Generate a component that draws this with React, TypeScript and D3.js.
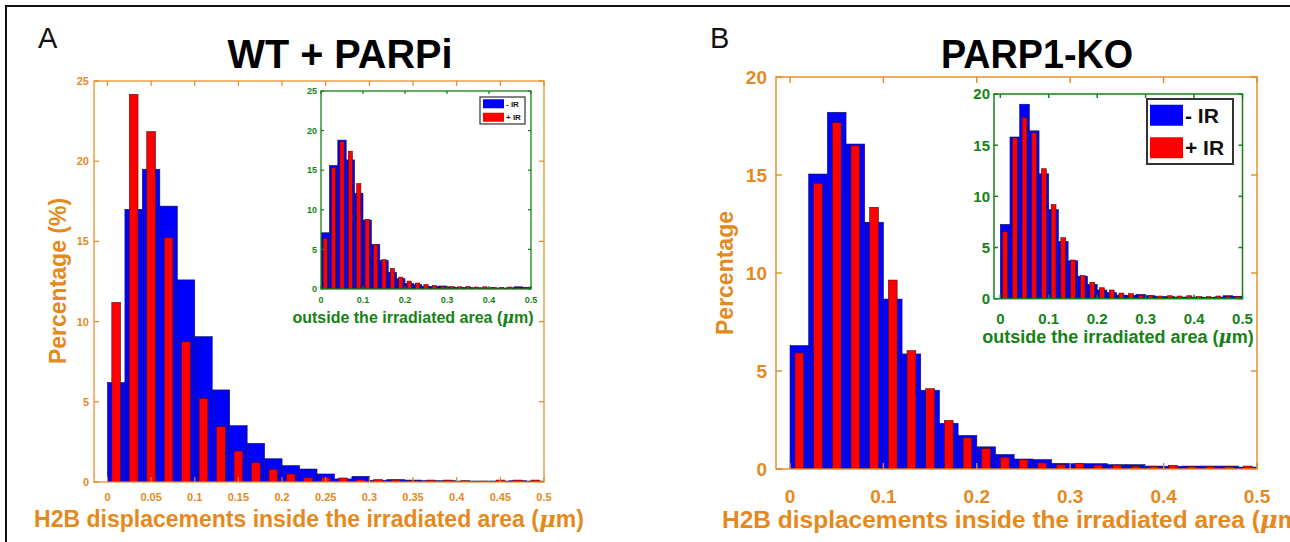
import React from "react";
import * as d3 from "d3";

// ---------- DATA ----------
const BIN_LEFT = [0, 0.02, 0.04, 0.06, 0.08, 0.1, 0.12, 0.14, 0.16, 0.18, 0.2, 0.22, 0.24, 0.26, 0.28, 0.3, 0.32, 0.34, 0.36, 0.38, 0.4, 0.42, 0.44, 0.46, 0.48];
const BIN_WIDTH = 0.02;

const SERIES = ["- IR", "+ IR"];

// Panel A (WT + PARPi), inside irradiated area
const A_MAIN_NOIR = [6.2, 17.0, 19.5, 17.2, 12.6, 9.06, 5.74, 3.51, 2.41, 1.45, 1.02, 0.81, 0.5, 0.19, 0.35, 0.1, 0.15, 0.12, 0.08, 0.08, 0.06, 0.06, 0.06, 0.08, 0.06];
const A_MAIN_IR = [11.2, 24.17, 21.84, 15.23, 8.75, 5.22, 3.45, 1.93, 1.2, 0.79, 0.5, 0.27, 0.27, 0.25, 0.15, 0.15, 0.12, 0.08, 0.12, 0.12, 0.08, 0.05, 0.12, 0.12, 0.12];
// Panel A inset, outside irradiated area
const A_INSET_NOIR = [7.1, 15.6, 18.8, 16.3, 12.1, 8.7, 5.6, 3.6, 2.1, 1.3, 0.7, 0.55, 0.35, 0.3, 0.38, 0.25, 0.2, 0.2, 0.15, 0.15, 0.15, 0.12, 0.15, 0.28, 0.22];
const A_INSET_IR = [6.4, 15.3, 18.6, 17.4, 13.3, 8.8, 5.6, 3.7, 2.6, 1.5, 1.0, 0.75, 0.55, 0.45, 0.3, 0.3, 0.28, 0.3, 0.25, 0.28, 0.2, 0.2, 0.25, 0.2, 0.22];

// Panel B (PARP1-KO)
const B_MAIN_NOIR = [6.3, 15.05, 18.2, 16.58, 12.59, 8.67, 5.87, 4.02, 2.33, 1.71, 1.13, 0.74, 0.51, 0.48, 0.29, 0.27, 0.27, 0.22, 0.22, 0.15, 0.14, 0.15, 0.15, 0.15, 0.1];
const B_MAIN_IR = [5.92, 14.58, 17.67, 16.5, 13.35, 9.64, 6.04, 4.1, 2.48, 1.59, 1.04, 0.6, 0.48, 0.31, 0.22, 0.27, 0.2, 0.2, 0.14, 0.14, 0.19, 0.12, 0.14, 0.12, 0.15];
const B_INSET_NOIR = [7.26, 15.8, 19.0, 16.4, 12.2, 8.7, 5.6, 3.7, 2.2, 1.4, 0.85, 0.6, 0.36, 0.33, 0.42, 0.29, 0.2, 0.2, 0.16, 0.16, 0.16, 0.13, 0.16, 0.29, 0.23];
const B_INSET_IR = [6.55, 15.7, 17.7, 16.2, 12.7, 9.2, 5.96, 3.78, 2.25, 1.6, 1.07, 0.85, 0.55, 0.49, 0.33, 0.29, 0.26, 0.29, 0.26, 0.29, 0.2, 0.2, 0.26, 0.23, 0.23];

// Ticks
const X_TICKS_FINE = [0, 0.05, 0.1, 0.15, 0.2, 0.25, 0.3, 0.35, 0.4, 0.45, 0.5];
const X_TICKS_COARSE = [0, 0.1, 0.2, 0.3, 0.4, 0.5];
const Y_TICKS_25 = [0, 5, 10, 15, 20, 25];
const Y_TICKS_20 = [0, 5, 10, 15, 20];

// Text
const TITLE_A = "WT + PARPi";
const TITLE_B = "PARP1-KO";
const YLABEL_A = "Percentage (%)";
const YLABEL_B = "Percentage";
const XLABEL_MAIN = "H2B displacements inside the irradiated area (";
const XLABEL_INSET = "outside the irradiated area (";

// ---------- STYLE ----------
const ORANGE = "#E5891D";
const GREEN = "#168216";
const BLUE = "#0000FF";
const RED = "#FF0000";
const FONT = "'Liberation Sans', Arial, Helvetica, sans-serif";

type HistProps = {
  left: number; right: number; top: number; bottom: number;
  xDomain: [number, number]; yMax: number;
  noIR: number[]; ir: number[];
  xTicks: number[]; yTicks: number[];
  color: string; tickFont: number; tickLen: number; lineW: number;
  xLabelY: number; yLabelX: number;
  redFrac: number;
  clip: string;
};

function Hist(p: HistProps) {
  const x = d3.scaleLinear().domain(p.xDomain).range([p.left, p.right]);
  const y = d3.scaleLinear().domain([0, p.yMax]).range([p.bottom, p.top]);
  const fmt = (v: number) => String(+v.toFixed(2));
  return (
    <g>
      <rect x={p.left} y={p.top} width={p.right - p.left} height={p.bottom - p.top} fill="#fff" />
      <clipPath id={p.clip}>
        <rect x={p.left} y={p.top} width={p.right - p.left} height={p.bottom - p.top} />
      </clipPath>
      <g clipPath={`url(#${p.clip})`}>
        {BIN_LEFT.map((b, i) => (
          <rect key={"b" + i} x={x(b)} y={y(p.noIR[i])} width={x(b + BIN_WIDTH) - x(b)}
            height={y(0) - y(p.noIR[i])} fill={BLUE} stroke="#10105a" strokeWidth={0.6} />
        ))}
        {BIN_LEFT.map((b, i) => {
          const w = (x(b + BIN_WIDTH) - x(b)) * p.redFrac;
          const cx = x(b + BIN_WIDTH / 2);
          return (
            <rect key={"r" + i} x={cx - w / 2} y={y(p.ir[i])} width={w}
              height={y(0) - y(p.ir[i])} fill={RED} stroke="#4a1010" strokeWidth={0.6} />
          );
        })}
      </g>
      {/* ticks */}
      {p.xTicks.map((t, i) => (
        <g key={"xt" + i}>
          <line x1={x(t)} x2={x(t)} y1={p.bottom} y2={p.bottom - p.tickLen} stroke={p.color} strokeWidth={p.lineW} />
          <line x1={x(t)} x2={x(t)} y1={p.top} y2={p.top + p.tickLen} stroke={p.color} strokeWidth={p.lineW} />
          <text x={x(t)} y={p.xLabelY} textAnchor="middle" fontSize={p.tickFont} fontWeight="bold" fill={p.color} fontFamily={FONT}>{fmt(t)}</text>
        </g>
      ))}
      {p.yTicks.map((t, i) => (
        <g key={"yt" + i}>
          <line x1={p.left} x2={p.left + p.tickLen} y1={y(t)} y2={y(t)} stroke={p.color} strokeWidth={p.lineW} />
          <line x1={p.right} x2={p.right - p.tickLen} y1={y(t)} y2={y(t)} stroke={p.color} strokeWidth={p.lineW} />
          <text x={p.yLabelX} y={y(t)} dy="0.36em" textAnchor="end" fontSize={p.tickFont} fontWeight="bold" fill={p.color} fontFamily={FONT}>{fmt(t)}</text>
        </g>
      ))}
      <rect x={p.left} y={p.top} width={p.right - p.left} height={p.bottom - p.top} fill="none" stroke={p.color} strokeWidth={p.lineW} />
    </g>
  );
}

function Legend(props: { x: number; y: number; w: number; h: number; pw: number; ph: number; font: number; border: number }) {
  const { x, y, w, h, pw, ph, font, border } = props;
  const rowH = h / 2;
  return (
    <g>
      <rect x={x} y={y} width={w} height={h} fill="#fff" stroke="#333" strokeWidth={border} />
      {SERIES.map((s, i) => {
        const cy = y + rowH * (i + 0.5);
        return (
          <g key={s}>
            <rect x={x + 3} y={cy - ph / 2} width={pw} height={ph} fill={i === 0 ? BLUE : RED} />
            <text x={x + 5 + pw} y={cy} dy="0.36em" fontSize={font} fontWeight="bold" fill="#111" fontFamily={FONT}>{s}</text>
          </g>
        );
      })}
    </g>
  );
}

export default function App() {
  return (
    <svg width={1290} height={542} style={{ position: "absolute", left: 0, top: 0, background: "#fff" }}>
      <rect x={0} y={0} width={1290} height={542} fill="#fff" />
      <line x1={5} x2={1290} y1={6} y2={6} stroke="#111" strokeWidth={2} />
      <line x1={6} x2={6} y1={5} y2={542} stroke="#111" strokeWidth={2} />

      {/* Panel A */}
      <text x={38} y={48} fontSize={29} fill="#111" fontFamily={FONT}>A</text>
      <text x={340} y={68} textAnchor="middle" fontSize={40} fontWeight="bold" fill="#000" fontFamily={FONT}
        textLength={225} lengthAdjust="spacingAndGlyphs">{TITLE_A}</text>
      <Hist left={94} right={544} top={81} bottom={482} xDomain={[-0.0154, 0.5]} yMax={25}
        noIR={A_MAIN_NOIR} ir={A_MAIN_IR} xTicks={X_TICKS_FINE} yTicks={Y_TICKS_25}
        color={ORANGE} tickFont={11} tickLen={5} lineW={1.2} xLabelY={501} yLabelX={89} redFrac={0.5} clip="cA" />
      <text transform="translate(66,281) rotate(-90)" textAnchor="middle" fontSize={23} fontWeight="bold" fill={ORANGE} fontFamily={FONT}>{YLABEL_A}</text>
      <text x={309} y={527} textAnchor="middle" fontSize={23} fontWeight="bold" fill={ORANGE} fontFamily={FONT}>
        {XLABEL_MAIN}<tspan fontStyle="italic" fontFamily="'DejaVu Serif', serif">μ</tspan>m)
      </text>

      <Hist left={321} right={531} top={91} bottom={289} xDomain={[0, 0.5]} yMax={25}
        noIR={A_INSET_NOIR} ir={A_INSET_IR} xTicks={X_TICKS_COARSE} yTicks={Y_TICKS_25}
        color={GREEN} tickFont={9} tickLen={3} lineW={1.3} xLabelY={303} yLabelX={317} redFrac={0.5} clip="cAi" />
      <text x={413} y={323} textAnchor="middle" fontSize={16} fontWeight="bold" fill={GREEN} fontFamily={FONT}>
        {XLABEL_INSET}<tspan fontStyle="italic" fontFamily="'DejaVu Serif', serif">μ</tspan>m)
      </text>
      <Legend x={480} y={97} w={45} h={27} pw={21} ph={9} font={8} border={1.2} />

      {/* Panel B */}
      <text x={710} y={48} fontSize={29} fill="#111" fontFamily={FONT}>B</text>
      <text x={1037} y={68} textAnchor="middle" fontSize={40} fontWeight="bold" fill="#000" fontFamily={FONT}
        textLength={192} lengthAdjust="spacingAndGlyphs">{TITLE_B}</text>
      <Hist left={776} right={1257} top={77} bottom={469} xDomain={[-0.015, 0.5]} yMax={20}
        noIR={B_MAIN_NOIR} ir={B_MAIN_IR} xTicks={X_TICKS_COARSE} yTicks={Y_TICKS_20}
        color={ORANGE} tickFont={19} tickLen={6} lineW={1.4} xLabelY={503} yLabelX={767} redFrac={0.47} clip="cB" />
      <text transform="translate(733,273) rotate(-90)" textAnchor="middle" fontSize={23} fontWeight="bold" fill={ORANGE} fontFamily={FONT}>{YLABEL_B}</text>
      <text x={722} y={528} textAnchor="start" fontSize={24.5} fontWeight="bold" fill={ORANGE} fontFamily={FONT}>
        {XLABEL_MAIN}<tspan fontStyle="italic" fontFamily="'DejaVu Serif', serif">μ</tspan>m)
      </text>

      <Hist left={994} right={1242.5} top={94} bottom={298.7} xDomain={[-0.013, 0.5]} yMax={20}
        noIR={B_INSET_NOIR} ir={B_INSET_IR} xTicks={X_TICKS_COARSE} yTicks={Y_TICKS_20}
        color={GREEN} tickFont={15} tickLen={4} lineW={1.5} xLabelY={324} yLabelX={990} redFrac={0.5} clip="cBi" />
      <text x={1118} y={343} textAnchor="middle" fontSize={18} fontWeight="bold" fill={GREEN} fontFamily={FONT}>
        {XLABEL_INSET}<tspan fontStyle="italic" fontFamily="'DejaVu Serif', serif">μ</tspan>m)
      </text>
      <Legend x={1147} y={99} w={86} h={65} pw={33} ph={21} font={21} border={2} />
    </svg>
  );
}
